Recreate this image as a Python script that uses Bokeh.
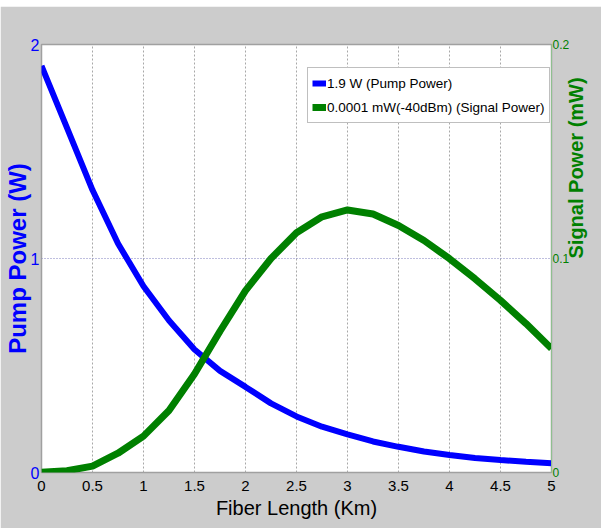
import math
from bokeh.plotting import figure
from bokeh.models import (Range1d, LinearAxis, FixedTicker, PrintfTickFormatter,
                          Legend, LegendItem)
from bokeh.embed import file_html
from bokeh.resources import INLINE

# ---- data ----
fiber_km = [0, 0.25, 0.5, 0.75, 1.0, 1.25, 1.5, 1.75, 2.0, 2.25, 2.5,
            2.75, 3.0, 3.25, 3.5, 3.75, 4.0, 4.25, 4.5, 4.75, 5.0]
pump_w = [1.90, 1.61, 1.32, 1.07, 0.87, 0.71, 0.575, 0.475, 0.40, 0.323, 0.262,
          0.214, 0.178, 0.145, 0.12, 0.098, 0.082, 0.068, 0.058, 0.050, 0.043]
signal_mw = [0.0001, 0.0008, 0.003, 0.009, 0.017, 0.029, 0.046, 0.066, 0.085, 0.100, 0.112,
             0.1195, 0.1227, 0.1208, 0.1154, 0.1084, 0.0999, 0.0905, 0.0804, 0.0696, 0.0579]

x_ticks = [0, 0.5, 1, 1.5, 2, 2.5, 3, 3.5, 4, 4.5, 5]
left_ticks = [0, 1, 2]
right_ticks = [0, 0.1, 0.2]

pump_label = "1.9 W (Pump Power)"
signal_label = "0.0001 mW(-40dBm) (Signal Power)"
x_title = "Fiber Length (Km)"
left_title = "Pump Power (W)"
right_title = "Signal Power (mW)"

BLUE = "#0000ff"
GREEN = "#008000"
FONT = "Liberation Sans"

p = figure(width=601, height=522, output_backend="svg", toolbar_location=None,
           x_range=Range1d(0, 5), y_range=Range1d(0, 2),
           min_border_left=41, min_border_right=40, min_border_top=38, min_border_bottom=56)
p.margin = (6, 0, 0, 0)
p.border_fill_color = "#cccccc"
p.background_fill_color = "white"
p.outline_line_color = "#a0a0a0"
p.outline_line_width = 1.5

p.extra_y_ranges = {"sig": Range1d(0, 0.2)}
raxis = LinearAxis(y_range_name="sig")
p.add_layout(raxis, "right")

# x axis
xa = p.xaxis[0]
xa.ticker = FixedTicker(ticks=x_ticks)
xa.formatter = PrintfTickFormatter(format="%g")
xa.axis_label = x_title
xa.axis_label_text_font = FONT
xa.axis_label_text_font_size = "20px"
xa.axis_label_text_font_style = "normal"
xa.axis_label_text_color = "black"
xa.axis_label_standoff = 3
xa.major_label_text_font = FONT
xa.major_label_text_font_size = "15px"
xa.major_label_text_color = "black"
xa.major_label_standoff = 8
xa.major_tick_out = 0
xa.major_tick_in = 0
xa.minor_tick_out = 0
xa.minor_tick_in = 0
xa.axis_line_color = None

# left axis
ya = p.yaxis[0]
ya.ticker = FixedTicker(ticks=left_ticks)
ya.formatter = PrintfTickFormatter(format="%g")
ya.axis_label = left_title
ya.axis_label_text_font = FONT
ya.axis_label_text_font_style = "bold"
ya.axis_label_text_font_size = "24px"
ya.axis_label_text_color = BLUE
ya.axis_label_standoff = -3
ya.major_label_text_font = FONT
ya.major_label_text_font_size = "16px"
ya.major_label_text_color = BLUE
ya.major_label_standoff = 2
ya.major_tick_out = 0
ya.major_tick_in = 0
ya.minor_tick_out = 0
ya.minor_tick_in = 0
ya.axis_line_color = None

# right axis
raxis.ticker = FixedTicker(ticks=right_ticks)
raxis.formatter = PrintfTickFormatter(format="%g")
raxis.axis_label = right_title
raxis.axis_label_orientation = math.pi / 2
raxis.axis_label_text_font = FONT
raxis.axis_label_text_font_style = "bold"
raxis.axis_label_text_font_size = "20px"
raxis.axis_label_text_color = GREEN
raxis.axis_label_text_line_height = 0.8
raxis.axis_label_standoff = 4
raxis.major_label_text_font = FONT
raxis.major_label_text_font_size = "12px"
raxis.major_label_text_color = GREEN
raxis.major_label_standoff = 1
raxis.major_tick_out = 0
raxis.major_tick_in = 0
raxis.minor_tick_out = 0
raxis.minor_tick_in = 0
raxis.axis_line_color = "#8fbf8f"

# grids
p.xgrid.ticker = FixedTicker(ticks=x_ticks)
p.xgrid.grid_line_color = "#a8a8a8"
p.xgrid.grid_line_dash = "2 2"
p.xgrid.grid_line_width = 1
p.ygrid.ticker = FixedTicker(ticks=left_ticks)
p.ygrid.grid_line_color = "#7f7fbf"
p.ygrid.grid_line_dash = "1 2"
p.ygrid.grid_line_width = 1

# lines
r_pump = p.line(fiber_km, pump_w, line_color=BLUE, line_width=6)
r_sig = p.line(fiber_km, signal_mw, line_color=GREEN, line_width=7, y_range_name="sig")

legend = Legend(items=[LegendItem(label=pump_label, renderers=[r_pump]),
                       LegendItem(label=signal_label, renderers=[r_sig])],
                location=(266, 349))
legend.label_text_font = FONT
legend.label_text_font_size = "13.5px"
legend.label_text_color = "black"
legend.glyph_width = 14
legend.glyph_height = 22
legend.label_height = 22
legend.label_standoff = 1
legend.spacing = 2
legend.padding = 4
legend.margin = 0
legend.border_line_color = "#808080"
legend.border_line_width = 1
legend.background_fill_color = "white"
legend.background_fill_alpha = 1
p.add_layout(legend)

open("out.html", "w").write(file_html(p, INLINE))
